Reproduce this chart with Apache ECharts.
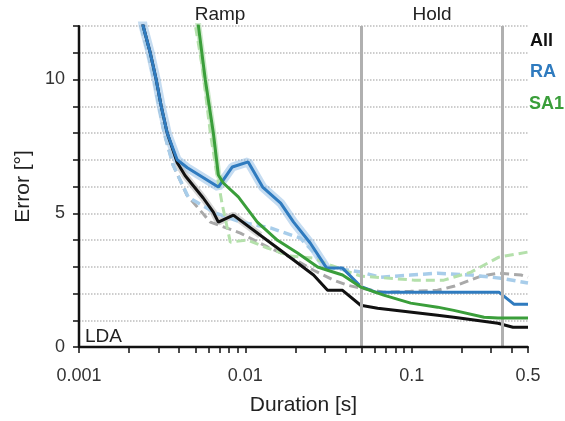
<!DOCTYPE html>
<html>
<head>
<meta charset="utf-8">
<script src="https://cdn.jsdelivr.net/npm/echarts@6/dist/echarts.min.js"></script>
<style>html,body{margin:0;padding:0;background:#fff}#c{width:565px;height:421px}</style>
</head>
<body>
<div id="c"></div>
<script>
// Duration [s] and decoding error [deg]
const allDur = [0.0023, 0.00243, 0.00268, 0.00291, 0.00312, 0.00339, 0.00389, 0.00435, 0.00558, 0.00642, 0.00688, 0.00847, 0.0123, 0.0195, 0.0257, 0.0312, 0.0384, 0.0493, 0.0624, 0.143, 0.179, 0.330, 0.406, 0.5];
const allErr = [13.0, 12.0, 11.0, 10.0, 9.0, 8.0, 6.9, 6.4, 5.57, 5.04, 4.67, 4.93, 4.18, 3.25, 2.69, 2.12, 2.12, 1.56, 1.45, 1.19, 1.11, 0.89, 0.74, 0.74];

const raDur = [0.0023, 0.00243, 0.00268, 0.00291, 0.00312, 0.00339, 0.00389, 0.00448, 0.00688, 0.00835, 0.0104, 0.0127, 0.0163, 0.0195, 0.0246, 0.0308, 0.0384, 0.0493, 0.0607, 0.334, 0.411, 0.5];
const raErr = [13.0, 12.0, 11.0, 10.0, 9.0, 8.0, 7.0, 6.7, 5.98, 6.73, 6.92, 5.98, 5.38, 4.67, 3.88, 2.95, 2.95, 2.27, 2.05, 2.05, 1.6, 1.6];

const sa1Dur = [0.0050, 0.00521, 0.00574, 0.00642, 0.00688, 0.00737, 0.00907, 0.0118, 0.0156, 0.0206, 0.0272, 0.0312, 0.0384, 0.0493, 0.0678, 0.0986, 0.143, 0.179, 0.272, 0.330, 0.5];
const sa1Err = [13.0, 12.05, 10.0, 8.0, 6.43, 6.13, 5.61, 4.67, 3.99, 3.51, 2.99, 2.87, 2.69, 2.24, 1.94, 1.64, 1.49, 1.37, 1.11, 1.08, 1.08];

// dashed (lighter) counterparts
const allAltDur = [0.0022, 0.00236, 0.0026, 0.00283, 0.00303, 0.00325, 0.00368, 0.00445, 0.00616, 0.00933, 0.01357, 0.01866, 0.0257, 0.0339, 0.0411, 0.0493, 0.0678, 0.0986, 0.143, 0.179, 0.261, 0.334, 0.454, 0.5];
const allAltErr = [13.0, 12.0, 11.0, 10.0, 9.0, 8.0, 6.8, 5.68, 4.67, 4.26, 3.74, 3.36, 2.87, 2.50, 2.31, 2.20, 2.05, 2.08, 2.12, 2.27, 2.65, 2.76, 2.69, 2.61];

const raAltDur = [0.0022, 0.00236, 0.0026, 0.00283, 0.00303, 0.00325, 0.00368, 0.00454, 0.0066, 0.00933, 0.01415, 0.0214, 0.0312, 0.0493, 0.065, 0.0986, 0.143, 0.227, 0.344, 0.5];
const raAltErr = [13.0, 12.0, 11.0, 10.0, 9.0, 8.0, 6.8, 5.6, 5.01, 4.67, 4.45, 4.07, 2.99, 2.80, 2.61, 2.69, 2.76, 2.69, 2.57, 2.39];

const sa1AltDur = [0.00486, 0.0050, 0.00551, 0.00616, 0.00678, 0.00727, 0.00812, 0.01028, 0.01357, 0.01866, 0.0257, 0.0325, 0.0493, 0.1028, 0.156, 0.227, 0.334, 0.5];
const sa1AltErr = [13.0, 12.04, 10.47, 8.0, 6.36, 5.31, 3.92, 4.0, 3.70, 3.40, 3.32, 3.06, 2.65, 2.50, 2.50, 2.80, 3.36, 3.55];

const xLabelValues = [0.001, 0.01, 0.1, 0.5];
const xTickValues = [0.001,0.002,0.003,0.004,0.005,0.006,0.007,0.008,0.009,0.01,0.02,0.03,0.04,0.05,0.06,0.07,0.08,0.09,0.1,0.2,0.3,0.4,0.5];
const yLabelValues = [0, 5, 10];
const phaseBounds = [0.05, 0.35];
const phaseNames = ['Ramp', 'Hold'];
const legendNames = ['All', 'RA', 'SA1'];
const xMin = 0.001, xMax = 0.5, yMin = 0, yMax = 12;

const pairs = (d, e) => d.map((v, i) => [v, e[i]]);
const FONT = '"Liberation Sans", Arial, sans-serif';
const C_ALL = '#111111', C_RA = '#2f7bbf', C_SA1 = '#3a9e3a';

const chart = echarts.init(document.getElementById('c'), null, {renderer: 'canvas'});

function line(data, color, width, dashed, z, opacity) {
  return {
    type: 'line', data: data, symbol: 'none', smooth: false, z: z, clip: true,
    lineStyle: {color: color, width: width, type: dashed ? [9, 5] : 'solid', opacity: opacity == null ? 1 : opacity},
    silent: true, animation: false
  };
}

const series = [
  // faint error bands
  line(pairs(raDur.slice(0, 16), raErr.slice(0, 16)), '#7fb2df', 9, false, 1, 0.45),
  line(pairs(allDur.slice(6, 13), allErr.slice(6, 13)), '#bbbbbb', 7, false, 1, 0.6),
  line(pairs(sa1Dur.slice(0, 6), sa1Err.slice(0, 6)), '#9fd39a', 6, false, 1, 0.5),
  // dashed lighter curves
  line(pairs(allAltDur, allAltErr), '#a9a9a9', 3, true, 2),
  line(pairs(raAltDur, raAltErr), '#a8cdea', 3.5, true, 2),
  line(pairs(sa1AltDur, sa1AltErr), '#b4e0ab', 3, true, 2),
  // solid curves
  line(pairs(allDur, allErr), C_ALL, 3, false, 3),
  line(pairs(raDur, raErr), C_RA, 3, false, 4),
  line(pairs(sa1Dur, sa1Err), C_SA1, 3, false, 5)
];
// phase boundaries
series[0].markLine = {
  silent: true, symbol: 'none', label: {show: false}, animation: false,
  lineStyle: {color: '#b0b0b0', width: 3, type: 'solid'},
  data: phaseBounds.map(v => ({xAxis: v}))
};
// axis frame (left and bottom edges of the plot), drawn through the axes' own scales
const frame = line([[xMin, yMax], [xMin, yMin], [xMax, yMin]], '#111', 2.5, false, 8);
frame.clip = false;
series.push(frame);

function txt(x, y, text, font, fill, align) {
  return {type: 'text', x: x, y: y, z: 10,
    style: {text: text, font: font, fill: fill, align: align, verticalAlign: 'middle'}};
}

chart.setOption({
  animation: false,
  grid: {left: 79, right: 37, top: 26, bottom: 74},
  xAxis: {
    type: 'log', logBase: 10, min: xMin, max: xMax,
    name: 'Duration [s]', nameLocation: 'middle', nameGap: 48,
    nameTextStyle: {fontFamily: FONT, fontSize: 21, color: '#222'},
    axisLine: {show: true, onZero: false, lineStyle: {color: '#111', width: 2}},
    axisTick: {show: true, inside: false, length: 6, customValues: xTickValues, lineStyle: {color: '#111', width: 1.5}},
    minorTick: {show: false},
    axisLabel: {customValues: xLabelValues, margin: 20, fontFamily: FONT, fontSize: 18, color: '#333',
      formatter: v => String(+Number(v).toPrecision(6))},
    splitLine: {show: false}
  },
  yAxis: {
    type: 'value', min: yMin, max: yMax, interval: 1,
    name: 'Error [°]', nameLocation: 'middle', nameGap: 40, nameRotate: 90,
    nameTextStyle: {fontFamily: FONT, fontSize: 21, color: '#222'},
    axisLine: {show: true, onZero: false, lineStyle: {color: '#111', width: 2}},
    axisTick: {show: true, inside: false, length: 6, lineStyle: {color: '#111', width: 1.5}},
    axisLabel: {margin: 14, fontFamily: FONT, fontSize: 18, color: '#333',
      formatter: v => (yLabelValues.indexOf(v) >= 0 ? String(v) : '')},
    splitLine: {show: true, showMinLine: false, lineStyle: {color: '#bdbdbd', width: 1.5, type: 'dotted'}}
  },
  graphic: [
    txt(220, 15, phaseNames[0], '19px ' + FONT, '#222', 'center'),
    txt(432, 15, phaseNames[1], '19px ' + FONT, '#222', 'center'),
    txt(530, 41, legendNames[0], 'bold 18px ' + FONT, C_ALL, 'left'),
    txt(530, 72, legendNames[1], 'bold 18px ' + FONT, C_RA, 'left'),
    txt(529, 104, legendNames[2], 'bold 18px ' + FONT, C_SA1, 'left'),
    txt(85, 337, 'LDA', '19px ' + FONT, '#222', 'left')
  ],
  series: series
});
</script>
</body>
</html>
